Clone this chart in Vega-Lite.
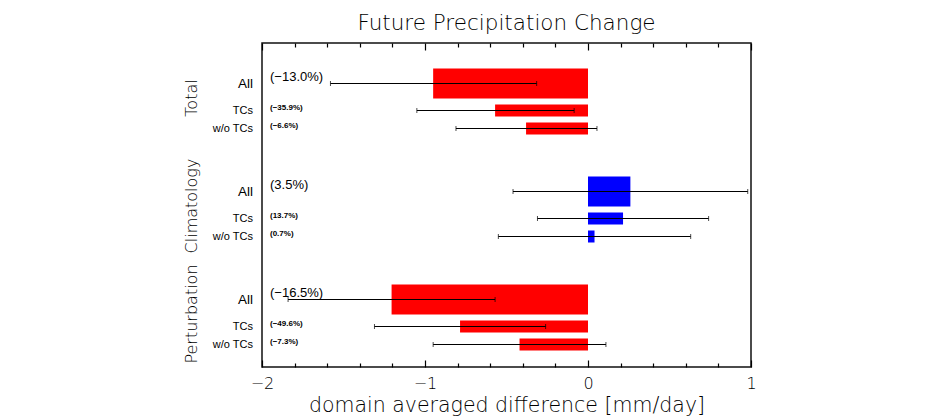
{
  "$schema": "https://vega.github.io/schema/vega-lite/v6.json",
  "width": 489,
  "height": 324,
  "autosize": {"type": "none"},
  "padding": {"left": 262, "top": 43, "right": 199, "bottom": 53},
  "background": "white",
  "title": {
    "text": "Future Precipitation Change",
    "font": "DejaVu Sans",
    "fontSize": 21.5,
    "fontWeight": 200,
    "color": "black",
    "offset": 8,
    "anchor": "middle"
  },
  "config": {
    "view": {"stroke": "#111", "strokeWidth": 1.5},
    "axis": {"labelColor": "black", "titleColor": "black", "tickColor": "black"}
  },
  "resolve": {"axis": {"x": "independent"}},
  "layer": [
    {
      "data": {
        "values": [
          {"group": "Total", "item": "All", "value": -0.95, "lo": -1.58, "hi": -0.315, "label": "(−13.0%)"},
          {"group": "Total", "item": "TCs", "value": -0.57, "lo": -1.05, "hi": -0.085, "label": "(−35.9%)"},
          {"group": "Total", "item": "w/o TCs", "value": -0.38, "lo": -0.81, "hi": 0.055, "label": "(−6.6%)"},
          {"group": "Climatology", "item": "All", "value": 0.26, "lo": -0.46, "hi": 0.98, "label": "(3.5%)"},
          {"group": "Climatology", "item": "TCs", "value": 0.215, "lo": -0.31, "hi": 0.74, "label": "(13.7%)"},
          {"group": "Climatology", "item": "w/o TCs", "value": 0.04, "lo": -0.55, "hi": 0.63, "label": "(0.7%)"},
          {"group": "Perturbation", "item": "All", "value": -1.205, "lo": -1.84, "hi": -0.57, "label": "(−16.5%)"},
          {"group": "Perturbation", "item": "TCs", "value": -0.785, "lo": -1.31, "hi": -0.26, "label": "(−49.6%)"},
          {"group": "Perturbation", "item": "w/o TCs", "value": -0.42, "lo": -0.95, "hi": 0.11, "label": "(−7.3%)"}
        ]
      },
      "resolve": {"axis": {"x": "independent"}},
      "encoding": {
        "y": {
          "field": "group",
          "type": "nominal",
          "scale": {
            "domain": ["Total", "Climatology", "Perturbation"],
            "paddingInner": 0.5,
            "paddingOuter": 0.25,
            "align": 0.6667
          },
          "axis": {
            "title": null,
            "ticks": false,
            "tickSize": 0,
            "domain": false,
            "labelAngle": -90,
            "labelAlign": "center",
            "labelBaseline": "middle",
            "labelPadding": 71,
            "labelOffset": -8,
            "labelFont": "DejaVu Sans",
            "labelFontWeight": 200,
            "labelFontSize": 16
          }
        },
        "yOffset": {
          "field": "item",
          "type": "nominal",
          "scale": {
            "domain": ["All", "gap 1", "gap 2", "TCs", "gap 3", "w/o TCs"],
            "paddingInner": 0,
            "paddingOuter": 0
          }
        }
      },
      "layer": [
        {
          "mark": {"type": "bar", "opacity": 1},
          "encoding": {
            "x": {
              "field": "value",
              "type": "quantitative",
              "stack": null,
              "scale": {"domain": [-2, 1], "nice": false, "zero": false},
              "axis": {
                "orient": "bottom",
                "title": "domain averaged difference [mm/day]",
                "titleFont": "DejaVu Sans",
                "titleFontWeight": 200,
                "titleFontSize": 20.5,
                "titlePadding": 4,
                "values": [-2, -1, 0, 1],
                "format": ".0f",
                "labelFont": "DejaVu Sans",
                "labelFontWeight": 200,
                "labelFontSize": 16,
                "labelPadding": 8,
                "labelFlush": false,
                "labelOverlap": false,
                "domain": false,
                "grid": false,
                "ticks": false,
                "tickSize": 0
              }
            },
            "color": {"condition": {"test": "datum.value < 0", "value": "#ff0000"}, "value": "#0000ff"},
            "size": {"condition": {"test": "datum.item == 'All'", "value": 30}, "value": 12}
          }
        },
        {
          "mark": {"type": "rule", "color": "black", "strokeWidth": 1},
          "encoding": {
            "x": {"field": "lo", "type": "quantitative", "axis": null},
            "x2": {"field": "hi"}
          }
        },
        {
          "mark": {"type": "tick", "color": "black", "size": 5, "thickness": 1},
          "encoding": {"x": {"field": "lo", "type": "quantitative", "axis": null}}
        },
        {
          "mark": {"type": "tick", "color": "black", "size": 5, "thickness": 1},
          "encoding": {"x": {"field": "hi", "type": "quantitative", "axis": null}}
        },
        {
          "transform": [{"filter": "datum.item == 'All'"}],
          "mark": {"type": "text", "align": "left", "baseline": "middle", "dx": 8, "dy": -7, "font": "Liberation Sans", "fontSize": 13, "color": "black"},
          "encoding": {
            "x": {"datum": -2, "type": "quantitative", "axis": null},
            "text": {"field": "label"}
          }
        },
        {
          "transform": [{"filter": "datum.item != 'All'"}],
          "mark": {"type": "text", "align": "left", "baseline": "middle", "dx": 8, "dy": -3, "font": "Liberation Sans", "fontWeight": "bold", "fontSize": 8, "color": "black"},
          "encoding": {
            "x": {"datum": -2, "type": "quantitative", "axis": null},
            "text": {"field": "label"}
          }
        },
        {
          "mark": {"type": "text", "align": "right", "baseline": "middle", "dx": -9, "font": "Liberation Sans", "color": "black"},
          "encoding": {
            "x": {"datum": -2, "type": "quantitative", "axis": null},
            "text": {"field": "item"},
            "size": {"condition": {"test": "datum.item == 'All'", "value": 13.5}, "value": 11}
          }
        }
      ]
    },
    {
      "mark": {"type": "rule", "color": "#666", "strokeWidth": 1.5},
      "encoding": {
        "x": {
          "datum": -2,
          "type": "quantitative",
          "scale": {"domain": [-2, 1], "nice": false, "zero": false},
          "axis": {
            "orient": "top",
            "offset": -324,
            "title": null,
            "values": [-2, -1.8, -1.6, -1.4, -1.2, -1, -0.8, -0.6, -0.4, -0.2, 0, 0.2, 0.4, 0.6, 0.8, 1],
            "labels": false,
            "domain": false,
            "grid": false,
            "ticks": true,
            "tickWidth": 1.2,
            "tickSize": {"condition": {"test": "abs(datum.value - round(datum.value)) < 1e-6", "value": 7}, "value": 4}
          }
        }
      }
    },
    {
      "mark": {"type": "rule", "color": "#333", "strokeWidth": 1.5},
      "encoding": {
        "x": {
          "datum": 0,
          "type": "quantitative",
          "scale": {"domain": [-2, 1], "nice": false, "zero": false},
          "axis": {
            "orient": "top",
            "title": null,
            "values": [-2, -1.8, -1.6, -1.4, -1.2, -1, -0.8, -0.6, -0.4, -0.2, 0, 0.2, 0.4, 0.6, 0.8, 1],
            "labels": false,
            "domain": false,
            "grid": false,
            "tickWidth": 1.2,
            "tickSize": {"condition": {"test": "abs(datum.value - round(datum.value)) < 1e-6", "value": -7}, "value": -4}
          }
        }
      }
    }
  ]
}
